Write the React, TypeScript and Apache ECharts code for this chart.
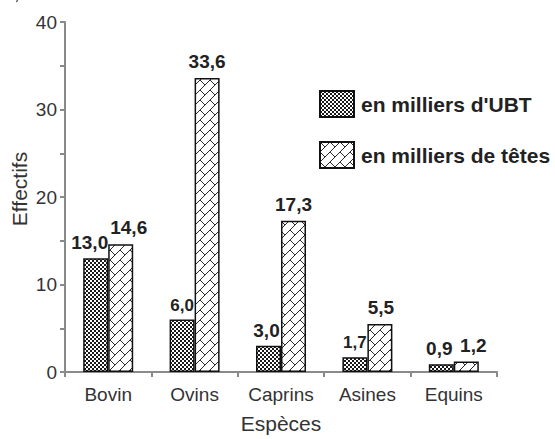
import React, { useEffect, useRef } from "react";
import * as echarts from "echarts";

const categories = ["Bovin", "Ovins", "Caprins", "Asines", "Equins"];
const ubtValues = [13.0, 6.0, 3.0, 1.7, 0.9];
const teteValues = [14.6, 33.6, 17.3, 5.5, 1.2];
const seriesNames = ["en milliers d'UBT", "en milliers de têtes"];
const yTicks = { min: 0, max: 40, interval: 10 };
const xTitle = "Espèces";
const yTitle = "Effectifs";

// label style tweaks (not data)
const ubtLabelDx = [-6, 0, -2, 0, -2];
const ubtLabelSize = [19, 17, 19, 17, 19];
const teteLabelDx = [8, 0, 0, 1, 7];

function dotPattern(): HTMLCanvasElement {
  const c = document.createElement("canvas");
  c.width = 4;
  c.height = 4;
  const g = c.getContext("2d")!;
  g.fillStyle = "#ffffff";
  g.fillRect(0, 0, 4, 4);
  g.fillStyle = "#1a1a1a";
  g.fillRect(0, 0, 2, 2);
  g.fillRect(2, 2, 2, 2);
  return c;
}

function hatchPattern(): HTMLCanvasElement {
  const c = document.createElement("canvas");
  c.width = 10;
  c.height = 10;
  const g = c.getContext("2d")!;
  g.fillStyle = "#ffffff";
  g.fillRect(0, 0, 10, 10);
  g.strokeStyle = "#2a2a2a";
  g.lineWidth = 1;
  g.beginPath();
  g.moveTo(-1, 11);
  g.lineTo(11, -1);
  g.moveTo(-1, 1);
  g.lineTo(1, -1);
  g.moveTo(9, 11);
  g.lineTo(11, 9);
  g.moveTo(0, 0);
  g.lineTo(5, 5);
  g.stroke();
  return c;
}

const fmt = (p: any) => Number(p.value).toFixed(1).replace(".", ",");

export default function App() {
  const ref = useRef<HTMLDivElement>(null);
  useEffect(() => {
    if (!ref.current) return;
    const chart = echarts.init(ref.current, null, { renderer: "svg" });
    const font = "'Liberation Sans', Arial, sans-serif";
    chart.setOption({
      animation: false,
      textStyle: { fontFamily: font },
      grid: { left: 65, right: 58, top: 22, bottom: 62 },
      legend: {
        orient: "vertical",
        left: 314,
        top: 85,
        icon: "rect",
        itemWidth: 34,
        itemHeight: 26,
        itemGap: 23,
        textStyle: { fontSize: 21, fontWeight: "bold", color: "#222", fontFamily: font, padding: [0, 0, 0, 2] },
        data: seriesNames,
        selectedMode: false,
      },
      graphic: [
        { type: "line", shape: { x1: 17.5, y1: 0, x2: 16.5, y2: 2 }, style: { stroke: "#444", lineWidth: 1.2 } },
        {
          type: "text",
          x: 19,
          y: 189,
          rotation: Math.PI / 2,
          style: {
            text: yTitle,
            fontSize: 21,
            fill: "#333",
            fontFamily: font,
            textAlign: "center",
            textVerticalAlign: "middle",
          },
        },
      ],
      xAxis: {
        type: "category",
        data: categories,
        name: xTitle,
        nameLocation: "middle",
        nameGap: 41,
        nameTextStyle: { fontSize: 21, color: "#333", fontFamily: font },
        axisLine: { lineStyle: { color: "#8a8a8a", width: 2 } },
        axisTick: { show: true, length: 5, lineStyle: { color: "#8a8a8a", width: 2 } },
        axisLabel: { fontSize: 19, color: "#333", margin: 13, fontFamily: font },
      },
      yAxis: {
        type: "value",
        min: yTicks.min,
        max: yTicks.max,
        interval: yTicks.interval,
        axisLine: { show: true, lineStyle: { color: "#8a8a8a", width: 2 } },
        axisTick: { show: true, length: 5, lineStyle: { color: "#8a8a8a", width: 2 } },
        minorTick: { show: true, splitNumber: 2, length: 5, lineStyle: { color: "#8a8a8a", width: 2 } },
        splitLine: { show: false },
        axisLabel: { fontSize: 19, color: "#333", margin: 8, fontFamily: font },
      },
      series: [
        {
          name: seriesNames[0],
          type: "bar",
          data: ubtValues.map((v, i) => ({
            value: v,
            label: { offset: [ubtLabelDx[i], 0], fontSize: ubtLabelSize[i] },
          })),
          barWidth: 25,
          barGap: "0%",
          itemStyle: {
            color: { image: dotPattern(), repeat: "repeat" },
            borderColor: "#111",
            borderWidth: 1.5,
          },
          label: {
            show: true,
            position: "top",
            distance: 6,
            formatter: fmt,
            fontSize: 19,
            fontWeight: "bold",
            color: "#222",
            fontFamily: font,
          },
        },
        {
          name: seriesNames[1],
          type: "bar",
          data: teteValues.map((v, i) => ({
            value: v,
            label: { offset: [teteLabelDx[i], 0] },
          })),
          barWidth: 25,
          barGap: "0%",
          itemStyle: {
            color: { image: hatchPattern(), repeat: "repeat" },
            borderColor: "#111",
            borderWidth: 1.5,
          },
          label: {
            show: true,
            position: "top",
            distance: 7,
            formatter: fmt,
            fontSize: 19,
            fontWeight: "bold",
            color: "#222",
            fontFamily: font,
          },
        },
      ],
    });
    return () => chart.dispose();
  }, []);
  return <div ref={ref} style={{ width: 555, height: 439, position: "absolute", left: 0, top: 0 }} />;
}
